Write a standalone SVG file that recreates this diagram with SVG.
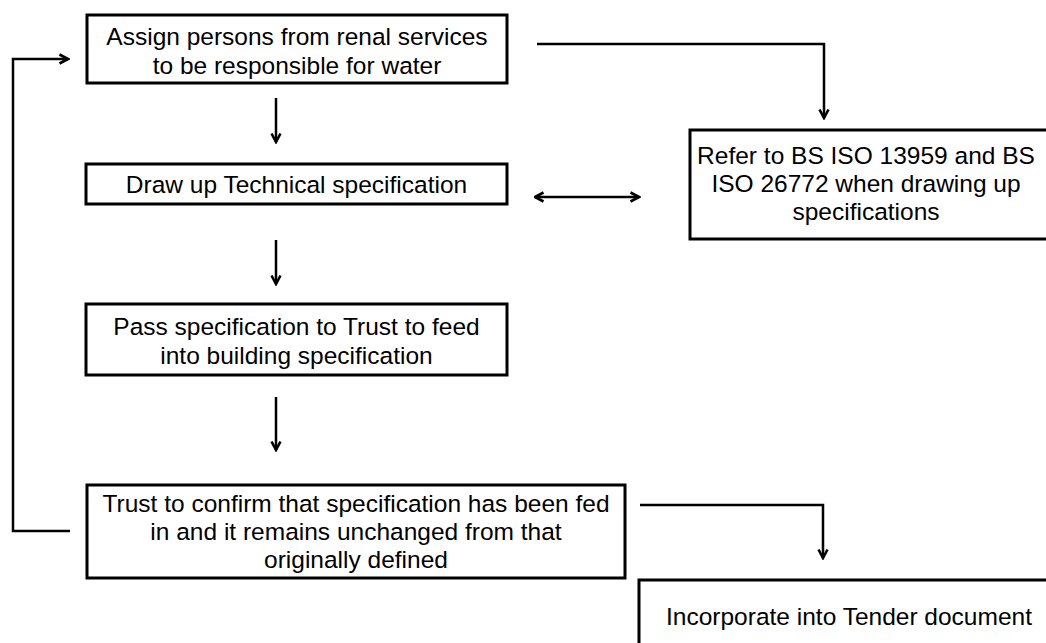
<svg xmlns="http://www.w3.org/2000/svg" width="1046" height="643" viewBox="0 0 1046 643">
<style>
.box{fill:#fff;stroke:#000;stroke-width:3}
.t{font-family:"Liberation Sans",Arial,sans-serif;font-size:24.5px;fill:#000;text-anchor:middle}
.c{fill:none;stroke:#000;stroke-width:2.5}
</style>
<defs>
<marker id="ah" viewBox="0 0 12 12" refX="10.5" refY="6" markerWidth="12" markerHeight="12" markerUnits="userSpaceOnUse" orient="auto-start-reverse">
<path d="M2,1.5 L10.5,6 L2,10.5" fill="none" stroke="#000" stroke-width="2.6"/>
</marker>
</defs>
<rect width="1046" height="643" fill="#fff"/>
<g id="connectors">
<path class="c" d="M276,98 V142" marker-end="url(#ah)"/>
<path class="c" d="M276,240 V284" marker-end="url(#ah)"/>
<path class="c" d="M276,397 V450" marker-end="url(#ah)"/>
<path class="c" d="M537,44 H824 V118" marker-end="url(#ah)"/>
<path class="c" d="M535,197 H639" marker-start="url(#ah)" marker-end="url(#ah)"/>
<path class="c" d="M70,531 H13 V59 H68" marker-end="url(#ah)"/>
<path class="c" d="M640,505 H823 V558" marker-end="url(#ah)"/>
</g>
<g id="n1">
<rect class="box" x="87" y="15" width="420" height="68"/>
<text class="t" x="297" y="45">Assign persons from renal services</text>
<text class="t" x="297" y="74">to be responsible for water</text>
</g>
<g id="n2">
<rect class="box" x="86" y="164" width="421" height="40"/>
<text class="t" x="296.5" y="193">Draw up Technical specification</text>
</g>
<g id="n3">
<rect class="box" x="86" y="304" width="421" height="71"/>
<text class="t" x="296.5" y="335">Pass specification to Trust to feed</text>
<text class="t" x="296.5" y="364">into building specification</text>
</g>
<g id="n4">
<rect class="box" x="690" y="130" width="370" height="109"/>
<text class="t" x="866" y="164">Refer to BS ISO 13959 and BS</text>
<text class="t" x="866" y="192">ISO 26772 when drawing up</text>
<text class="t" x="866" y="220">specifications</text>
</g>
<g id="n5">
<rect class="box" x="87" y="485" width="538" height="93"/>
<text class="t" x="356" y="512">Trust to confirm that specification has been fed</text>
<text class="t" x="356" y="540">in and it remains unchanged from that</text>
<text class="t" x="356" y="568">originally defined</text>
</g>
<g id="n6">
<rect class="box" x="639" y="580" width="420" height="80"/>
<text class="t" x="849" y="625">Incorporate into Tender document</text>
</g>
</svg>
